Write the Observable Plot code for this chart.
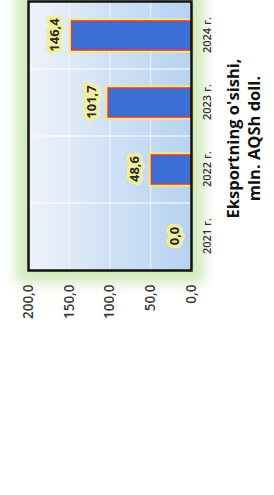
<!DOCTYPE html>
<html><head><meta charset="utf-8">
<script src="https://cdn.jsdelivr.net/npm/d3@7"></script>
<script src="https://cdn.jsdelivr.net/npm/@observablehq/plot@0.6"></script>
<style>
html,body{margin:0;padding:0;background:#fff;overflow:hidden;width:274px;height:495px}
#wrap{position:absolute;left:0;top:0;width:495px;height:274px;transform-origin:0 0;transform:translate(0,495px) rotate(-90deg);font-family:"Open Sans",Lato,sans-serif}
#wrap svg{display:block}
.title{width:269px;margin-left:222px;text-align:center;font-weight:700;font-size:16.5px;line-height:21px;color:#111;white-space:nowrap}
</style></head><body><div id="wrap"></div>
<script>
const years = ["2021 г.", "2022 г.", "2023 г.", "2024 г."];
const exportValues = [0.0, 48.6, 101.7, 146.4];
const valueTicks = [0, 50, 100, 150, 200];
const titleLines = ["Eksportning o'sishi,", "mln. AQSh doll."];

const data = years.map((year, i) => ({year, value: exportValues[i]}));
const fmt = v => d3.format(".1f")(v).replace(".", ",");

const W = 495, H = 222, mL = 224, mR = 2, mT = 28, mB = 31;
const padIn = 0.57, padOut = padIn / 2;
const step = (W - mL - mR) / years.length;
const bw = step * (1 - padIn);
const colInset = -(step - bw) / 2;

const chart = Plot.plot({
  width: W, height: H,
  marginLeft: mL, marginRight: mR, marginTop: mT, marginBottom: mB,
  style: {fontFamily: "'Open Sans', Lato, sans-serif", background: "transparent", overflow: "visible"},
  x: {domain: years, paddingInner: padIn, paddingOuter: padOut, label: null},
  y: {domain: [0, 200], label: null},
  marks: [
    Plot.frame({fill: "#d3ebbf", inset: -13}),
    Plot.frame({fill: "url(#bgGrad)"}),
    Plot.gridY(valueTicks.slice(1, -1), {stroke: "#ffffff", strokeOpacity: 0.7}),
    Plot.barY(data, {x: "year", y1: 0, y2: 200, fill: "none", stroke: "#ffffff", strokeOpacity: 0.6, insetLeft: colInset, insetRight: colInset}),
    Plot.barY(data, {x: "year", y: "value", fill: "none", stroke: "#f4e77c", strokeWidth: 6, strokeOpacity: 0.8}),
    Plot.barY(data, {x: "year", y: "value", fill: "#3b6fd6", stroke: "#dc3a32", strokeWidth: 1.5}),
    Plot.text(data, {x: "year", y: "value", text: d => fmt(d.value), dy: -17, fill: "#2a2a2a", stroke: "#f3ee9c", strokeWidth: 7, paintOrder: "stroke", fontWeight: "bold", fontSize: 13}),
    Plot.frame({stroke: "#111111", strokeWidth: 2.5}),
    Plot.axisY({ticks: valueTicks, tickFormat: fmt, tickSize: 0, tickPadding: 14, fontSize: 13.5, fontWeight: 600, fill: "#3a3a3a", label: null}),
    Plot.axisX({tickSize: 0, tickPadding: 12, fontSize: 11, fontWeight: 600, fill: "#333333", label: null})
  ]
});

const svg = d3.select(chart);
const defs = svg.insert("defs", ":first-child");
const grad = defs.append("linearGradient").attr("id", "bgGrad").attr("x1", 0).attr("y1", 0).attr("x2", 0).attr("y2", 1);
[[0, "#eef3fb"], [0.25, "#e0eaf7"], [0.5, "#d0e1f5"], [0.75, "#c3daf3"], [1, "#b6d2f0"]].forEach(([o, c]) =>
  grad.append("stop").attr("offset", o).attr("stop-color", c));
const frames = svg.selectAll('[aria-label="frame"]').nodes();
if (frames.length) d3.select(frames[0]).style("filter", "blur(6px)");

const wrap = document.getElementById("wrap");
wrap.appendChild(chart);
titleLines.forEach(t => {
  const d = document.createElement("div");
  d.className = "title";
  d.textContent = t;
  wrap.appendChild(d);
});
</script>
</body></html>
